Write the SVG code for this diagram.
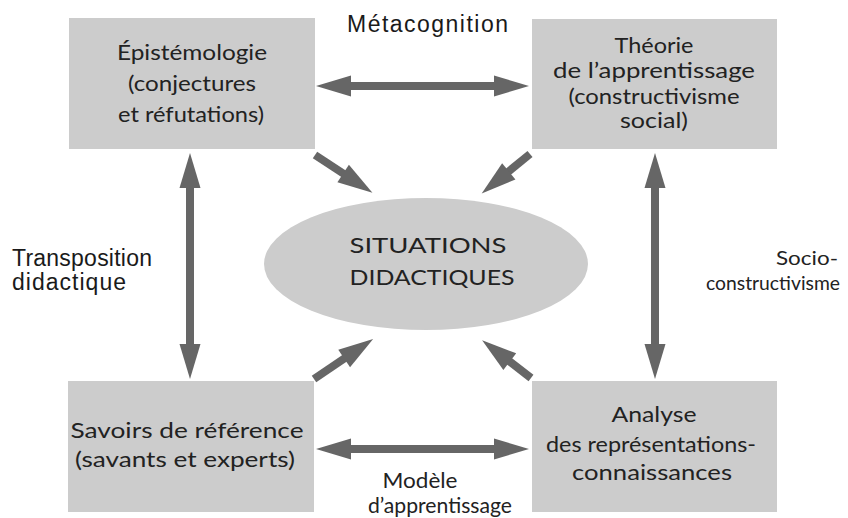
<svg xmlns="http://www.w3.org/2000/svg" width="848" height="518" viewBox="0 0 848 518">
<style>
.box{fill:#cccccc}
.t{font-family:Lato,"Open Sans","Liberation Sans",sans-serif;font-size:21px;font-weight:400;fill:#222222;text-anchor:middle}
.r{font-family:Lato,"Open Sans","Liberation Sans",sans-serif;font-size:19px;font-weight:400;fill:#222222;text-anchor:end}
.l{font-family:"Liberation Sans",Arial,sans-serif;font-size:23px;fill:#1a1a1a}
.a{stroke:#666666;stroke-width:8;fill:none}
</style>
<defs>
<marker id="h" markerUnits="userSpaceOnUse" orient="auto-start-reverse" refX="0" refY="0" markerWidth="40" markerHeight="24" viewBox="0 -12 40 24" overflow="visible">
<path d="M-1,-10.5 L34,0 L-1,10.5 z" fill="#666666"/>
</marker>
</defs>
<rect width="848" height="518" fill="#ffffff"/>
<g id="connectors">
<line class="a" x1="350" y1="86" x2="495" y2="86" marker-start="url(#h)" marker-end="url(#h)"/>
<line class="a" x1="350" y1="449" x2="495" y2="449" marker-start="url(#h)" marker-end="url(#h)"/>
<line class="a" x1="190" y1="187" x2="190" y2="345" marker-start="url(#h)" marker-end="url(#h)"/>
<line class="a" x1="655" y1="187" x2="655" y2="345" marker-start="url(#h)" marker-end="url(#h)"/>
<line class="a" x1="315" y1="155" x2="344" y2="174" marker-end="url(#h)"/>
<line class="a" x1="530" y1="154" x2="508" y2="172" marker-end="url(#h)"/>
<line class="a" x1="314" y1="379" x2="345" y2="358" marker-end="url(#h)"/>
<line class="a" x1="531" y1="378" x2="509" y2="361" marker-end="url(#h)"/>
</g>
<g id="n-epistemologie">
<rect class="box" x="69" y="18" width="246" height="131"/>
<text class="t" x="192" y="60" textLength="150" lengthAdjust="spacingAndGlyphs">Épistémologie</text>
<text class="t" x="192" y="91" textLength="128" lengthAdjust="spacingAndGlyphs">(conjectures</text>
<text class="t" x="191" y="122" textLength="146" lengthAdjust="spacingAndGlyphs">et réfutations)</text>
</g>
<g id="n-theorie">
<rect class="box" x="532" y="19" width="245" height="130"/>
<text class="t" x="654" y="53" textLength="79" lengthAdjust="spacingAndGlyphs">Théorie</text>
<text class="t" x="654" y="78" textLength="202" lengthAdjust="spacingAndGlyphs">de l’apprentissage</text>
<text class="t" x="654" y="104" textLength="171" lengthAdjust="spacingAndGlyphs">(constructivisme</text>
<text class="t" x="654" y="128" textLength="68" lengthAdjust="spacingAndGlyphs">social)</text>
</g>
<g id="n-savoirs">
<rect class="box" x="68" y="381" width="246" height="131"/>
<text class="t" x="187" y="438" textLength="233" lengthAdjust="spacingAndGlyphs">Savoirs de référence</text>
<text class="t" x="185" y="467" textLength="220" lengthAdjust="spacingAndGlyphs">(savants et experts)</text>
</g>
<g id="n-analyse">
<rect class="box" x="532" y="381" width="245" height="131"/>
<text class="t" x="654" y="422" textLength="85" lengthAdjust="spacingAndGlyphs">Analyse</text>
<text class="t" x="651" y="452" textLength="210" lengthAdjust="spacingAndGlyphs">des représentations-</text>
<text class="t" x="652" y="480" textLength="160" lengthAdjust="spacingAndGlyphs">connaissances</text>
</g>
<g id="n-situations">
<ellipse cx="426" cy="264" rx="162" ry="66" fill="#cccccc"/>
<text class="t" x="428" y="253" textLength="157" lengthAdjust="spacingAndGlyphs">SITUATIONS</text>
<text class="t" x="432" y="285" textLength="165" lengthAdjust="spacingAndGlyphs">DIDACTIQUES</text>
</g>
<g id="labels">
<text class="l" x="347" y="32" textLength="161" lengthAdjust="spacing">Métacognition</text>
<text class="l" x="12" y="266" textLength="140" lengthAdjust="spacing">Transposition</text>
<text class="l" x="12" y="290" textLength="114" lengthAdjust="spacing">didactique</text>
<text class="r" x="838" y="265" textLength="62" lengthAdjust="spacingAndGlyphs">Socio-</text>
<text class="r" x="840" y="290" textLength="134" lengthAdjust="spacingAndGlyphs">constructivisme</text>
<text class="t" x="420" y="488" textLength="75" lengthAdjust="spacingAndGlyphs">Modèle</text>
<text class="t" x="440" y="513" textLength="144" lengthAdjust="spacingAndGlyphs">d’apprentissage</text>
</g>
</svg>
